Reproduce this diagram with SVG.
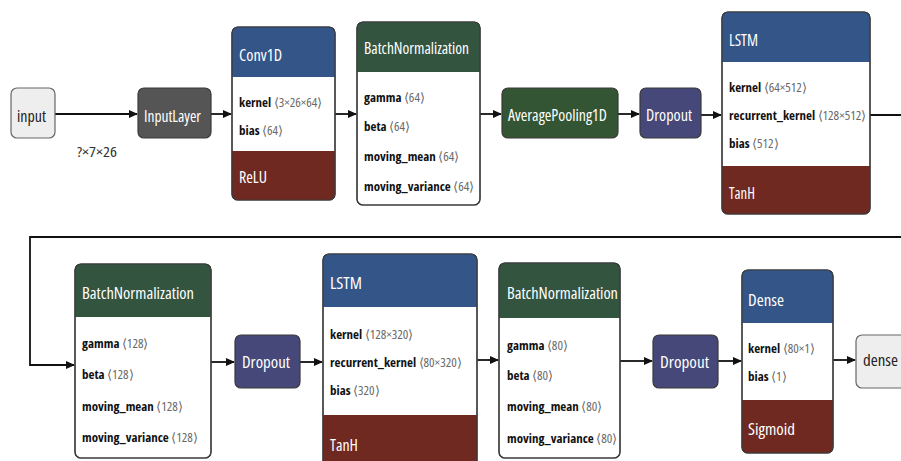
<svg xmlns="http://www.w3.org/2000/svg" width="901" height="461" viewBox="0 0 901 461">
<style>
text{font-family:"Open Sans","Noto Sans","Liberation Sans",sans-serif;font-stretch:condensed}
.t{font-size:17px;fill:#fff}
.r{font-size:13px;fill:#111}
.n{font-weight:bold}
.v{fill:#6a6a6a}
.box{fill:#fff;stroke:#3a3a3a;stroke-width:1.2}
.edge{fill:none;stroke:#111;stroke-width:1.8}
.layer{fill:#335588}
.norm{fill:#335540}
.pool{fill:#335533}
.act{fill:#702921}
.drop{fill:#454878}
.data{fill:#555}
</style>
<defs>
<marker id="ah" markerWidth="9" markerHeight="8" refX="8" refY="4" orient="auto" markerUnits="userSpaceOnUse">
<path d="M0,0 L9,4 L0,8 Z" fill="#111"/>
</marker>
</defs>
<rect width="901" height="461" fill="#fff"/>

<g id="connectors">
<path class="edge" d="M55,114 H137" marker-end="url(#ah)"/>
<path class="edge" d="M211,114 H231" marker-end="url(#ah)"/>
<path class="edge" d="M335,114 H356" marker-end="url(#ah)"/>
<path class="edge" d="M480,114 H501" marker-end="url(#ah)"/>
<path class="edge" d="M618,114 H639" marker-end="url(#ah)"/>
<path class="edge" d="M701,115 H721" marker-end="url(#ah)"/>
<path class="edge" d="M870,115 H915 V237 H30 V365 H74" marker-end="url(#ah)"/>
<path class="edge" d="M211,362 H234" marker-end="url(#ah)"/>
<path class="edge" d="M300,362 H322" marker-end="url(#ah)"/>
<path class="edge" d="M477,360 H498" marker-end="url(#ah)"/>
<path class="edge" d="M620,361 H652" marker-end="url(#ah)"/>
<path class="edge" d="M718,361 H741" marker-end="url(#ah)"/>
<path class="edge" d="M833,360 H855" marker-end="url(#ah)"/>
<text x="77" y="157" style="font-size:14px;fill:#333" textLength="40" lengthAdjust="spacingAndGlyphs">?×7×26</text>
</g>

<g id="input">
<rect x="11" y="88" width="44" height="50" rx="6" fill="#eee" stroke="#666" stroke-width="1.2"/>
<text x="17" y="122" style="font-size:17px;fill:#222" textLength="29" lengthAdjust="spacingAndGlyphs">input</text>
</g>

<g id="inputlayer">
<rect x="138" y="88" width="73" height="50" rx="6" class="data" stroke="#3a3a3a" stroke-width="1.2"/>
<text x="144" y="122" class="t" textLength="57" lengthAdjust="spacingAndGlyphs">InputLayer</text>
</g>

<g id="conv1d">
<rect class="box" x="232" y="27" width="103" height="173" rx="6"/>
<path class="layer" d="M232,77 V33 Q232,27 238,27 H329 Q335,27 335,33 V77 Z"/>
<path class="act" d="M232,151 H335 V194 Q335,200 329,200 H238 Q232,200 232,194 Z"/>
<rect x="232" y="27" width="103" height="173" rx="6" fill="none" stroke="#3a3a3a" stroke-width="1.2"/>
<text x="239" y="61" class="t" textLength="43" lengthAdjust="spacingAndGlyphs">Conv1D</text>
<text x="239" y="107" class="r"><tspan class="n">kernel</tspan><tspan class="v"> ⟨3×26×64⟩</tspan></text>
<text x="239" y="135" class="r"><tspan class="n">bias</tspan><tspan class="v"> ⟨64⟩</tspan></text>
<text x="239" y="183" class="t" textLength="28" lengthAdjust="spacingAndGlyphs">ReLU</text>
</g>

<g id="batchnorm1">
<rect class="box" x="357" y="22" width="123" height="183" rx="6"/>
<path class="norm" d="M357,72 V28 Q357,22 363,22 H474 Q480,22 480,28 V72 Z"/>
<rect x="357" y="22" width="123" height="183" rx="6" fill="none" stroke="#3a3a3a" stroke-width="1.2"/>
<text x="364" y="54" class="t" textLength="105" lengthAdjust="spacingAndGlyphs">BatchNormalization</text>
<text x="364" y="102" class="r"><tspan class="n">gamma</tspan><tspan class="v"> ⟨64⟩</tspan></text>
<text x="364" y="131" class="r"><tspan class="n">beta</tspan><tspan class="v"> ⟨64⟩</tspan></text>
<text x="364" y="161" class="r"><tspan class="n">moving_mean</tspan><tspan class="v"> ⟨64⟩</tspan></text>
<text x="364" y="191" class="r"><tspan class="n">moving_variance</tspan><tspan class="v"> ⟨64⟩</tspan></text>
</g>

<g id="avgpool">
<rect x="502" y="88" width="116" height="50" rx="6" class="pool" stroke="#3a3a3a" stroke-width="1.2"/>
<text x="508" y="121" class="t" textLength="99" lengthAdjust="spacingAndGlyphs">AveragePooling1D</text>
</g>

<g id="dropout1">
<rect x="640" y="88" width="61" height="50" rx="6" class="drop" stroke="#3a3a3a" stroke-width="1.2"/>
<text x="646" y="121" class="t" textLength="46" lengthAdjust="spacingAndGlyphs">Dropout</text>
</g>

<g id="lstm1">
<rect class="box" x="722" y="12" width="148" height="202" rx="6"/>
<path class="layer" d="M722,62 V18 Q722,12 728,12 H864 Q870,12 870,18 V62 Z"/>
<path class="act" d="M722,166 H870 V208 Q870,214 864,214 H728 Q722,214 722,208 Z"/>
<rect x="722" y="12" width="148" height="202" rx="6" fill="none" stroke="#3a3a3a" stroke-width="1.2"/>
<text x="729" y="46" class="t" textLength="29" lengthAdjust="spacingAndGlyphs">LSTM</text>
<text x="729" y="92" class="r"><tspan class="n">kernel</tspan><tspan class="v"> ⟨64×512⟩</tspan></text>
<text x="729" y="120" class="r"><tspan class="n">recurrent_kernel</tspan><tspan class="v"> ⟨128×512⟩</tspan></text>
<text x="729" y="148" class="r"><tspan class="n">bias</tspan><tspan class="v"> ⟨512⟩</tspan></text>
<text x="729" y="199" class="t" textLength="26" lengthAdjust="spacingAndGlyphs">TanH</text>
</g>

<g id="batchnorm2">
<rect class="box" x="75" y="264" width="136" height="194" rx="6"/>
<path class="norm" d="M75,317 V270 Q75,264 81,264 H205 Q211,264 211,270 V317 Z"/>
<rect x="75" y="264" width="136" height="194" rx="6" fill="none" stroke="#3a3a3a" stroke-width="1.2"/>
<text x="82" y="299" class="t" textLength="112" lengthAdjust="spacingAndGlyphs">BatchNormalization</text>
<text x="82" y="348" class="r"><tspan class="n">gamma</tspan><tspan class="v"> ⟨128⟩</tspan></text>
<text x="82" y="379" class="r"><tspan class="n">beta</tspan><tspan class="v"> ⟨128⟩</tspan></text>
<text x="82" y="411" class="r"><tspan class="n">moving_mean</tspan><tspan class="v"> ⟨128⟩</tspan></text>
<text x="82" y="442" class="r"><tspan class="n">moving_variance</tspan><tspan class="v"> ⟨128⟩</tspan></text>
</g>

<g id="dropout2">
<rect x="235" y="335" width="65" height="53" rx="6" class="drop" stroke="#3a3a3a" stroke-width="1.2"/>
<text x="242" y="368" class="t" textLength="48" lengthAdjust="spacingAndGlyphs">Dropout</text>
</g>

<g id="lstm2">
<rect class="box" x="323" y="254" width="154" height="222" rx="6"/>
<path class="layer" d="M323,307 V260 Q323,254 329,254 H471 Q477,254 477,260 V307 Z"/>
<path class="act" d="M323,415 H477 V470 Q477,476 471,476 H329 Q323,476 323,470 Z"/>
<rect x="323" y="254" width="154" height="222" rx="6" fill="none" stroke="#3a3a3a" stroke-width="1.2"/>
<text x="330" y="289" class="t" textLength="32" lengthAdjust="spacingAndGlyphs">LSTM</text>
<text x="330" y="339" class="r"><tspan class="n">kernel</tspan><tspan class="v"> ⟨128×320⟩</tspan></text>
<text x="330" y="367" class="r"><tspan class="n">recurrent_kernel</tspan><tspan class="v"> ⟨80×320⟩</tspan></text>
<text x="330" y="395" class="r"><tspan class="n">bias</tspan><tspan class="v"> ⟨320⟩</tspan></text>
<text x="330" y="451" class="t" textLength="28" lengthAdjust="spacingAndGlyphs">TanH</text>
</g>

<g id="batchnorm3">
<rect class="box" x="499" y="263" width="121" height="195" rx="6"/>
<path class="norm" d="M499,318 V269 Q499,263 505,263 H614 Q620,263 620,269 V318 Z"/>
<rect x="499" y="263" width="121" height="195" rx="6" fill="none" stroke="#3a3a3a" stroke-width="1.2"/>
<text x="507" y="299" class="t" textLength="111" lengthAdjust="spacingAndGlyphs">BatchNormalization</text>
<text x="507" y="350" class="r"><tspan class="n">gamma</tspan><tspan class="v"> ⟨80⟩</tspan></text>
<text x="507" y="380" class="r"><tspan class="n">beta</tspan><tspan class="v"> ⟨80⟩</tspan></text>
<text x="507" y="411" class="r"><tspan class="n">moving_mean</tspan><tspan class="v"> ⟨80⟩</tspan></text>
<text x="507" y="443" class="r"><tspan class="n">moving_variance</tspan><tspan class="v"> ⟨80⟩</tspan></text>
</g>

<g id="dropout3">
<rect x="653" y="335" width="65" height="53" rx="6" class="drop" stroke="#3a3a3a" stroke-width="1.2"/>
<text x="660" y="368" class="t" textLength="49" lengthAdjust="spacingAndGlyphs">Dropout</text>
</g>

<g id="dense_layer">
<rect class="box" x="742" y="270" width="91" height="183" rx="6"/>
<path class="layer" d="M742,323 V276 Q742,270 748,270 H827 Q833,270 833,276 V323 Z"/>
<path class="act" d="M742,400 H833 V447 Q833,453 827,453 H748 Q742,453 742,447 Z"/>
<rect x="742" y="270" width="91" height="183" rx="6" fill="none" stroke="#3a3a3a" stroke-width="1.2"/>
<text x="748" y="306" class="t" textLength="36" lengthAdjust="spacingAndGlyphs">Dense</text>
<text x="748" y="353" class="r"><tspan class="n">kernel</tspan><tspan class="v"> ⟨80×1⟩</tspan></text>
<text x="748" y="381" class="r"><tspan class="n">bias</tspan><tspan class="v"> ⟨1⟩</tspan></text>
<text x="748" y="435" class="t" textLength="47" lengthAdjust="spacingAndGlyphs">Sigmoid</text>
</g>

<g id="dense_output">
<rect x="856" y="335" width="60" height="53" rx="6" fill="#eee" stroke="#666" stroke-width="1.2"/>
<text x="863" y="366" style="font-size:17px;fill:#222" textLength="35" lengthAdjust="spacingAndGlyphs">dense</text>
</g>
</svg>
